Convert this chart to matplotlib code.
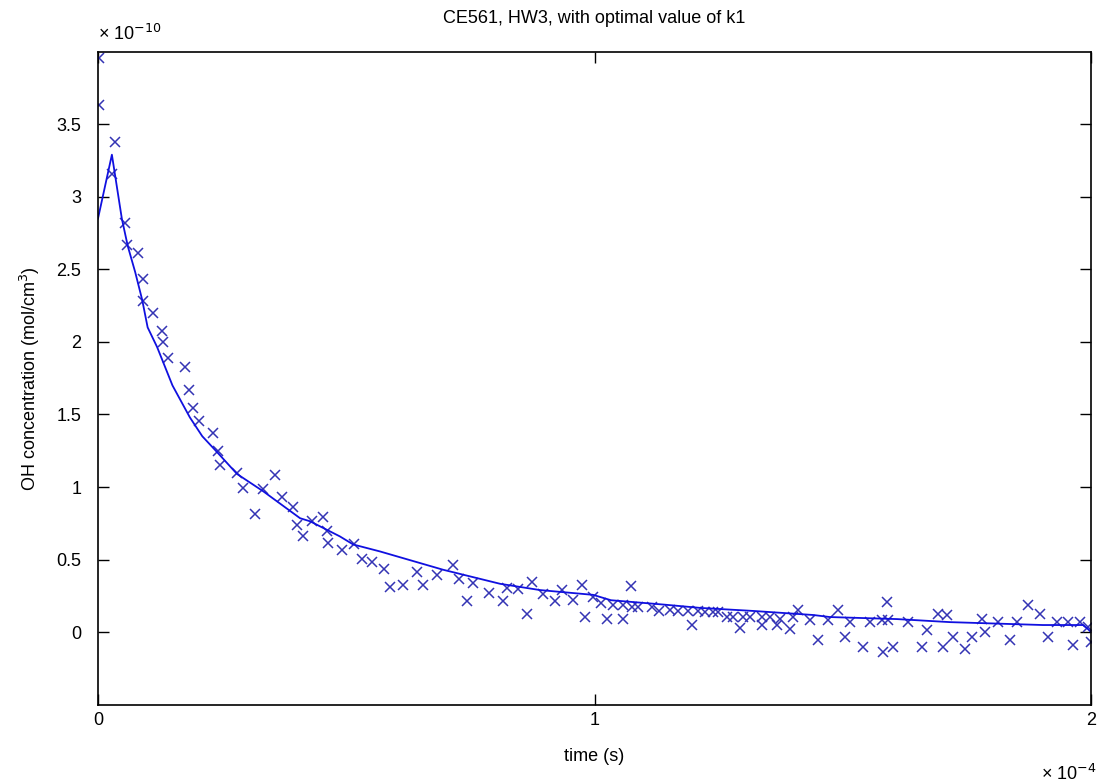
import numpy as np
import matplotlib
matplotlib.use("Agg")
import matplotlib.pyplot as plt
from matplotlib.ticker import FormatStrFormatter

# measured OH data (t in 1e-4 s, conc in 1e-10 mol/cm^3)
t_data = [0.002, 0.002, 0.028, 0.034, 0.054, 0.058, 0.081, 0.091, 0.091, 0.111,
          0.129, 0.131, 0.141, 0.175, 0.183, 0.191, 0.203, 0.232, 0.242, 0.246,
          0.280, 0.292, 0.316, 0.332, 0.356, 0.371, 0.393, 0.401, 0.413, 0.431,
          0.453, 0.461, 0.463, 0.491, 0.516, 0.532, 0.552, 0.576, 0.588, 0.614,
          0.643, 0.655, 0.683, 0.715, 0.727, 0.743, 0.755, 0.788, 0.816, 0.824,
          0.846, 0.864, 0.874, 0.896, 0.920, 0.935, 0.957, 0.975, 0.981, 0.997,
          1.013, 1.025, 1.037, 1.057, 1.057, 1.074, 1.076, 1.088, 1.116, 1.130,
          1.152, 1.168, 1.188, 1.196, 1.208, 1.223, 1.239, 1.249, 1.267, 1.279,
          1.293, 1.299, 1.313, 1.337, 1.337, 1.353, 1.368, 1.374, 1.394, 1.400,
          1.410, 1.434, 1.450, 1.470, 1.490, 1.505, 1.515, 1.541, 1.555, 1.579,
          1.581, 1.589, 1.591, 1.601, 1.631, 1.660, 1.670, 1.692, 1.702, 1.710,
          1.722, 1.746, 1.760, 1.780, 1.787, 1.813, 1.837, 1.851, 1.873, 1.897,
          1.913, 1.932, 1.954, 1.964, 1.978, 1.994, 2.000]
oh_data = [3.958, 3.632, 3.160, 3.375, 2.819, 2.667, 2.611, 2.431, 2.285, 2.201,
           2.076, 2.000, 1.889, 1.826, 1.667, 1.542, 1.458, 1.375, 1.250, 1.153,
           1.097, 0.993, 0.813, 0.986, 1.083, 0.931, 0.861, 0.736, 0.660, 0.764,
           0.792, 0.694, 0.611, 0.563, 0.604, 0.507, 0.486, 0.438, 0.313, 0.326,
           0.417, 0.326, 0.396, 0.465, 0.368, 0.215, 0.340, 0.271, 0.215, 0.306,
           0.299, 0.125, 0.347, 0.264, 0.215, 0.292, 0.222, 0.326, 0.104, 0.243,
           0.201, 0.090, 0.188, 0.090, 0.188, 0.319, 0.174, 0.174, 0.174, 0.146,
           0.153, 0.146, 0.146, 0.049, 0.146, 0.139, 0.139, 0.139, 0.104, 0.104,
           0.028, 0.104, 0.104, 0.104, 0.049, 0.104, 0.049, 0.090, 0.021, 0.104,
           0.153, 0.083, -0.056, 0.083, 0.153, -0.035, 0.069, -0.104, 0.069, 0.083,
           -0.139, 0.208, 0.083, -0.104, 0.069, -0.104, 0.014, 0.125, -0.104, 0.118,
           -0.035, -0.118, -0.035, 0.090, 0.000, 0.069, -0.056, 0.069, 0.188, 0.125,
           -0.035, 0.069, 0.069, -0.090, 0.069, 0.035, -0.069]

# model curve with optimal k1
t_fit = [0, 0.028, 0.048, 0.06, 0.075, 0.089, 0.10, 0.119, 0.15, 0.185, 0.21,
         0.240, 0.280, 0.333, 0.407, 0.427, 0.487, 0.514, 0.568, 0.695, 0.810,
         0.890, 0.997, 1.033, 1.139, 1.213, 1.320, 1.441, 1.474, 1.609, 1.716,
         1.903, 1.984, 1.994, 2.0]
oh_fit = [2.85, 3.29, 2.85, 2.66, 2.48, 2.29, 2.10, 1.965, 1.70, 1.48, 1.35,
          1.24, 1.09, 0.97, 0.785, 0.764, 0.66, 0.604, 0.556, 0.43, 0.333,
          0.29, 0.257, 0.22, 0.19, 0.167, 0.146, 0.118, 0.104, 0.09, 0.069,
          0.049, 0.049, 0.02, 0.0]

plt.rcParams['font.family'] = ['Liberation Sans', 'DejaVu Sans']
plt.rcParams['font.size'] = 13

fig = plt.figure(figsize=(11.01, 7.83), dpi=100)
ax = fig.add_axes([0.089, 0.1, 0.902, 0.834])

ax.plot(t_data, oh_data, 'x', color='#3434b4', ms=7, mew=1.1)
ax.plot(t_fit, oh_fit, '-', color='#1010e0', lw=1.3)

ax.set_xlim(0, 2)
ax.set_ylim(-0.5, 4)
ax.set_xticks([0, 1, 2])
ax.set_yticks(np.arange(0, 3.6, 0.5))
ax.xaxis.set_major_formatter(FormatStrFormatter('%g'))
ax.yaxis.set_major_formatter(FormatStrFormatter('%g'))
ax.tick_params(direction='in', top=True, right=True, length=8, width=1, labelsize=13)
ax.tick_params(axis='x', pad=5)
ax.tick_params(axis='y', pad=12)
for s in ax.spines.values():
    s.set_linewidth(1.2)

ax.set_xlabel('time (s)', fontsize=13, labelpad=14)
ax.set_ylabel('OH concentration (mol/cm$^3$)', fontsize=13, labelpad=10)
ax.set_title('CE561, HW3, with optimal value of k1', fontsize=13, pad=21)

# MATLAB-style exponent labels
ax.text(0.0, 1.012, '× 10$^{-10}$', transform=ax.transAxes, ha='left', va='bottom',
        fontsize=13)
ax.text(1.005, -0.09, '× 10$^{-4}$', transform=ax.transAxes, ha='right', va='top',
        fontsize=13)

fig.savefig('out.png', dpi=100)
